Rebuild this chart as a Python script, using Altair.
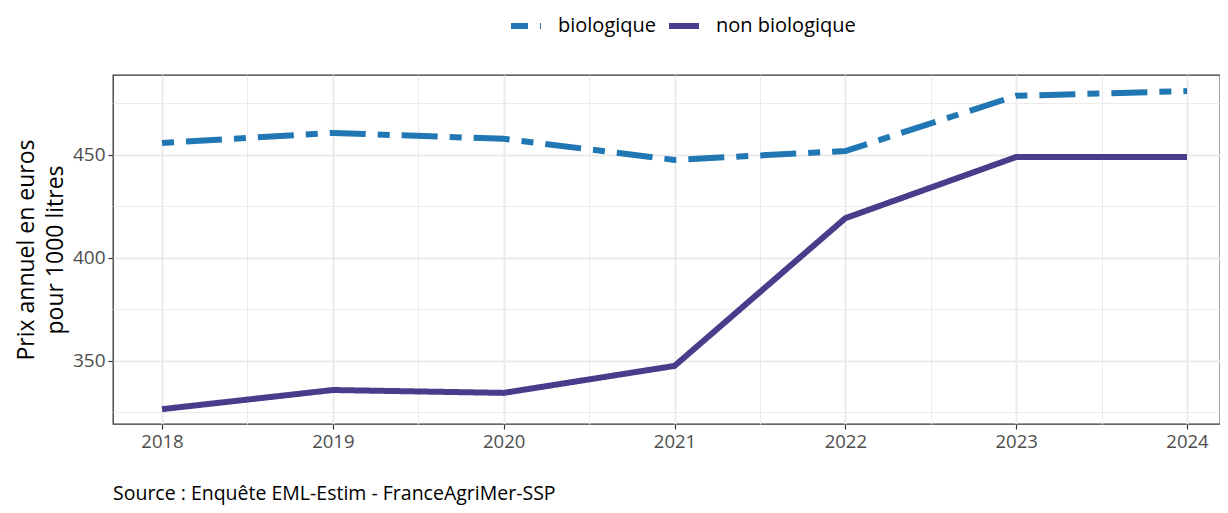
import altair as alt
import pandas as pd

years = [2018, 2019, 2020, 2021, 2022, 2023, 2024]
bio = [455.8, 460.7, 457.8, 447.6, 451.9, 478.7, 481.0]
non_bio = [326.6, 335.9, 334.5, 347.6, 419.3, 449.0, 449.0]
series = ["biologique", "non biologique"]
colors = ["#2077b4", "#483d8b"]
dashes = [[12, 12, 36, 12], [1, 0]]
y_ticks = [325, 350, 375, 400, 425, 450, 475]
x_ticks = [2018, 2018.5, 2019, 2019.5, 2020, 2020.5, 2021, 2021.5, 2022, 2022.5, 2023, 2023.5, 2024]
y_title = ["Prix annuel en euros", "pour 1000 litres"]
caption = "Source : Enquête EML-Estim - FranceAgriMer-SSP"

rows = []
for s, vals in zip(series, [bio, non_bio]):
    for yr, v in zip(years, vals):
        rows.append({"annee": yr, "prix": v, "type": s})
df = pd.DataFrame(rows)

FONT = "Open Sans"

x_axis = alt.Axis(
    values=x_ticks,
    labelExpr="datum.value % 1 === 0 ? format(datum.value, 'd') : ''",
    title=None,
    labelColor="#4d4d4d",
    labelFontSize=18.5,
    labelFont=FONT,
    labelPadding=3,
    tickColor="#333333",
    tickSize=5,
    tickWidth=1.2,
    tickOpacity=alt.ExprRef("datum.value % 1 === 0 ? 1 : 0"),
    gridColor="#ebebeb",
    gridWidth=alt.ExprRef("datum.value % 1 === 0 ? 2 : 1"),
    domain=False,
)
y_axis = alt.Axis(
    values=y_ticks,
    labelExpr="datum.value % 50 === 0 ? format(datum.value, 'd') : ''",
    title=y_title,
    titleFont=FONT,
    titleFontSize=23,
    titleFontWeight="normal",
    titleColor="#000000",
    titlePadding=5,
    titleLineHeight=29,
    labelColor="#4d4d4d",
    labelFontSize=19,
    labelFont=FONT,
    labelPadding=3,
    tickColor="#333333",
    tickSize=5,
    tickWidth=1.2,
    tickOpacity=alt.ExprRef("datum.value % 50 === 0 ? 1 : 0"),
    gridColor="#ebebeb",
    gridWidth=alt.ExprRef("datum.value % 50 === 0 ? 2 : 1"),
    domain=False,
)

chart = (
    alt.Chart(df)
    .mark_line(strokeWidth=6, strokeCap="butt", clip=True)
    .encode(
        x=alt.X("annee:Q", scale=alt.Scale(domain=[2017.713, 2024.193], nice=False, zero=False), axis=x_axis),
        y=alt.Y("prix:Q", scale=alt.Scale(domain=[319.4, 488.8], nice=False, zero=False), axis=y_axis),
        color=alt.Color(
            "type:N",
            scale=alt.Scale(domain=series, range=colors),
            legend=alt.Legend(
                title=None,
                orient="none",
                legendX=395,
                legendY=-67,
                direction="horizontal",
                symbolType="stroke",
                symbolSize=900,
                symbolStrokeWidth=6,
                symbolDashOffset=43,
                labelFontSize=20,
                labelFont=FONT,
                labelColor="#000000",
                columnPadding=0,
                labelOffset=14,
            ),
        ),
        strokeDash=alt.StrokeDash(
            "type:N",
            scale=alt.Scale(domain=series, range=dashes),
            legend=None,
        ),
    )
    .properties(
        width=1107,
        height=349,
        autosize=alt.AutoSizeParams(type="none"),
        padding={"left": 105, "top": 67, "right": 0, "bottom": 81},
        background="white",
        title=alt.TitleParams(
            text=caption,
            orient="bottom",
            anchor="start",
            frame="group",
            fontSize=19.5,
            font=FONT,
            fontWeight="normal",
            color="#000000",
            offset=34,
        ),
    )
    .configure_view(stroke="#333333", strokeWidth=1.3)
)

chart.save("out.html", embed_options={"renderer": "svg", "actions": False})
